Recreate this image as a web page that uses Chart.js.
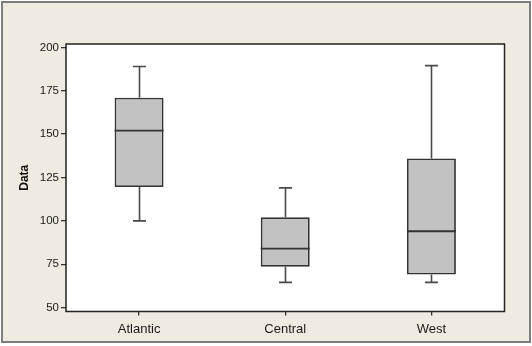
<!DOCTYPE html>
<html>
<head>
<meta charset="utf-8">
<script src="https://cdn.jsdelivr.net/npm/chart.js@4"></script>
<style>
  html, body { margin: 0; padding: 0; background: #ffffff; }
  canvas { display: block; }
</style>
</head>
<body>
<canvas id="boxChart" width="532" height="346"></canvas>
<script>
// five-number summaries per region
const categories = ["Atlantic", "Central", "West"];
const lowWhisker = [100, 64.5, 64.5];
const q1 = [119.5, 73.5, 69];
const median = [152, 84, 94];
const q3 = [171, 102, 136];
const highWhisker = [189, 119, 189.5];
const yTicks = [50, 75, 100, 125, 150, 175, 200];

// outer beige panel + white plot area
const panelPlugin = {
  id: "panel",
  beforeDraw(chart) {
    const ctx = chart.ctx;
    const a = chart.chartArea;
    ctx.save();
    ctx.fillStyle = "#efebe1";
    ctx.fillRect(2, 2, 528, 340);
    ctx.strokeStyle = "#7d7d7d";
    ctx.lineWidth = 2;
    ctx.strokeRect(2, 2, 528, 340);
    ctx.fillStyle = "#ffffff";
    ctx.fillRect(a.left, a.top, a.right - a.left, a.bottom - a.top);
    ctx.restore();
  },
};

// whiskers, caps and median lines on top of the floating bars
const boxPlugin = {
  id: "boxParts",
  afterDatasetsDraw(chart) {
    const ctx = chart.ctx;
    const y = chart.scales.y;
    const bars = chart.getDatasetMeta(0).data;
    ctx.save();
    bars.forEach((bar, i) => {
      const x = Math.round(bar.x) + 0.5;
      const half = bar.width / 2;
      const cap = 6.5;
      ctx.strokeStyle = "#4a4a4a";
      ctx.lineWidth = 1.6;
      ctx.beginPath();
      ctx.moveTo(x, y.getPixelForValue(q3[i]));
      ctx.lineTo(x, y.getPixelForValue(highWhisker[i]));
      ctx.moveTo(x, y.getPixelForValue(q1[i]));
      ctx.lineTo(x, y.getPixelForValue(lowWhisker[i]));
      ctx.moveTo(x - cap, y.getPixelForValue(highWhisker[i]));
      ctx.lineTo(x + cap, y.getPixelForValue(highWhisker[i]));
      ctx.moveTo(x - cap, y.getPixelForValue(lowWhisker[i]));
      ctx.lineTo(x + cap, y.getPixelForValue(lowWhisker[i]));
      ctx.stroke();
      ctx.strokeStyle = "#333333";
      ctx.lineWidth = 1.8;
      ctx.beginPath();
      ctx.moveTo(bar.x - half, y.getPixelForValue(median[i]));
      ctx.lineTo(bar.x + half, y.getPixelForValue(median[i]));
      ctx.stroke();
    });
    // frame around the plot area
    const a = chart.chartArea;
    ctx.strokeStyle = "#222222";
    ctx.lineWidth = 1.5;
    ctx.strokeRect(a.left, a.top, a.right - a.left, a.bottom - a.top);
    ctx.restore();
  },
};

const ctx = document.getElementById("boxChart").getContext("2d");

new Chart(ctx, {
  type: "bar",
  data: {
    labels: categories,
    datasets: [
      {
        data: categories.map((c, i) => [q1[i], q3[i]]),
        backgroundColor: "#c2c2c2",
        borderColor: "#333333",
        borderWidth: 1.8,
        borderSkipped: false,
        categoryPercentage: 1,
        barPercentage: 0.335,
      },
    ],
  },
  options: {
    responsive: false,
    animation: false,
    devicePixelRatio: 1,
    layout: { padding: { top: 44, right: 27.5, left: 0, bottom: 0 } },
    plugins: {
      legend: { display: false },
      tooltip: { enabled: false },
    },
    scales: {
      x: {
        offset: true,
        border: { display: false },
        grid: {
          offset: false,
          drawOnChartArea: false,
          tickLength: 4,
          color: "#333333",
          lineWidth: 1.3,
        },
        ticks: {
          color: "#1a1a1a",
          padding: 6,
          font: { family: "Liberation Sans, Arial, sans-serif", size: 13 },
        },
        afterFit: (s) => {
          s.height = 34.5;
        },
      },
      y: {
        min: 47.7,
        max: 202,
        border: { display: false },
        grid: {
          drawOnChartArea: false,
          tickLength: 5,
          color: "#333333",
          lineWidth: 1.3,
        },
        afterBuildTicks: (s) => {
          s.ticks = yTicks.map((v) => ({ value: v }));
        },
        ticks: {
          color: "#1a1a1a",
          padding: 2,
          font: { family: "Liberation Sans, Arial, sans-serif", size: 11.5 },
        },
        title: {
          display: true,
          text: "Data",
          color: "#111111",
          padding: { top: 17, bottom: 0 },
          font: { family: "Liberation Sans, Arial, sans-serif", size: 12, weight: "bold" },
        },
        afterFit: (s) => {
          s.width = 66;
        },
      },
    },
  },
  plugins: [panelPlugin, boxPlugin],
});
</script>
</body>
</html>
